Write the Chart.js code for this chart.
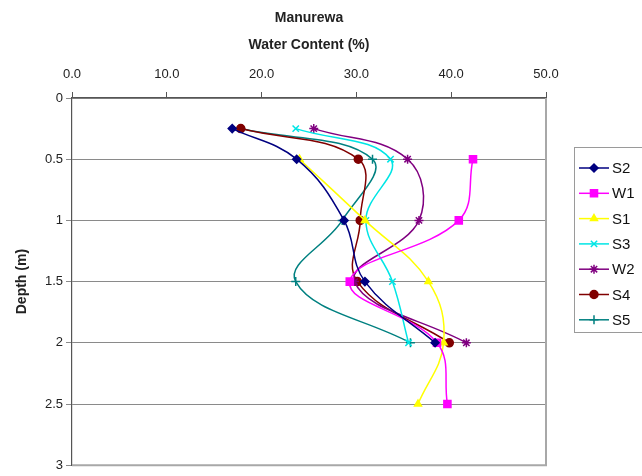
<!DOCTYPE html>
<html>
<head>
<meta charset="utf-8">
<script src="https://cdn.jsdelivr.net/npm/chart.js@4.4.1/dist/chart.umd.min.js"></script>
<style>
  html, body { margin: 0; padding: 0; background: #ffffff; }
  #wrap { width: 642px; height: 476px; position: relative; }
</style>
</head>
<body>
<div id="wrap"><canvas id="c" width="642" height="476"></canvas></div>
<script>
// Sampling depths (m) shared by all profiles
const depths = [0.25, 0.5, 1.0, 1.5, 2.0, 2.5];

// Water content (%) at each depth; null = not sampled
const S2 = [16.9, 23.7, 28.7, 30.9, 38.3, null];
const W1 = [null, 42.3, 40.8, 29.3, 38.5, 39.6];
const S1 = [null, 24.0, 30.9, 37.6, 39.2, 36.5];
const S3 = [23.6, 33.6, 31.0, 33.8, 35.5, null];
const W2 = [25.5, 35.4, 36.6, 29.8, 41.6, null];
const S4 = [17.8, 30.2, 30.4, 30.1, 39.8, null];
const S5 = [17.8, 31.7, 28.5, 23.6, 35.7, null];

const seriesNames = ['S2', 'W1', 'S1', 'S3', 'W2', 'S4', 'S5'];
const seriesValues = [S2, W1, S1, S3, W2, S4, S5];

// Axis ticks
const depthTicks = [0, 0.5, 1, 1.5, 2, 2.5, 3];
const contentTicks = [0, 10, 20, 30, 40, 50];

const styles = {
  S2: { color: '#000080', pointStyle: 'rectRot', radius: 4 },
  W1: { color: '#ff00ff', pointStyle: 'rect', radius: 5 },
  S1: { color: '#ffff00', pointStyle: 'triangle', radius: 4 },
  S3: { color: '#00e5e5', pointStyle: 'crossRot', radius: 4.5 },
  W2: { color: '#800080', pointStyle: 'star', radius: 4.5 },
  S4: { color: '#800000', pointStyle: 'circle', radius: 4 },
  S5: { color: '#008080', pointStyle: 'cross', radius: 4.5 }
};

const datasets = seriesNames.map((name, i) => {
  const st = styles[name];
  const pts = [];
  seriesValues[i].forEach((v, k) => { if (v !== null) pts.push({ x: v, y: depths[k] }); });
  return {
    label: name,
    data: pts,
    showLine: true,
    borderColor: st.color,
    backgroundColor: st.color,
    borderWidth: 1.5,
    tension: 0.4,
    pointStyle: st.pointStyle,
    pointRadius: st.radius,
    pointBorderWidth: 1.5,
    pointBackgroundColor: st.color,
    pointBorderColor: st.color
  };
});

// Right and bottom edges of the plot frame
const framePlugin = {
  id: 'plotFrame',
  beforeDatasetsDraw(chart) {
    const { ctx, chartArea: a } = chart;
    ctx.save();
    ctx.strokeStyle = '#a8a8a8';
    ctx.lineWidth = 2;
    ctx.beginPath();
    ctx.moveTo(a.right, a.top);
    ctx.lineTo(a.right, a.bottom);
    ctx.lineTo(a.left, a.bottom);
    ctx.stroke();
    ctx.restore();
  }
};

// Boxed legend with line + marker samples
const legendPlugin = {
  id: 'boxLegend',
  afterDraw(chart) {
    const { ctx } = chart;
    const left = 574, top = 147, bottom = 332, right = 660;
    ctx.save();
    ctx.strokeStyle = '#9a9a9a';
    ctx.lineWidth = 1;
    ctx.strokeRect(left + 0.5, top + 0.5, right - left, bottom - top);
    ctx.font = '15px "Liberation Sans", Arial, sans-serif';
    ctx.textBaseline = 'middle';
    ctx.textAlign = 'left';
    chart.data.datasets.forEach((ds, i) => {
      const y = 168 + i * 25.3;
      ctx.strokeStyle = ds.borderColor;
      ctx.fillStyle = ds.borderColor;
      ctx.lineWidth = 1.5;
      ctx.beginPath();
      ctx.moveTo(579, y);
      ctx.lineTo(609, y);
      ctx.stroke();
      Chart.helpers.drawPoint(ctx, {
        pointStyle: ds.pointStyle, radius: ds.pointRadius, rotation: 0, borderWidth: 1.5
      }, 594, y);
      ctx.fillStyle = '#111';
      ctx.fillText(ds.label, 612, y + 1);
    });
    ctx.restore();
  }
};

new Chart(document.getElementById('c'), {
  type: 'scatter',
  data: { datasets },
  options: {
    responsive: false,
    animation: false,
    layout: { padding: { left: 0, top: 0, right: 96, bottom: 6 } },
    plugins: { legend: { display: false }, tooltip: { enabled: false } },
    scales: {
      x: {
        type: 'linear',
        position: 'top',
        min: 0, max: 50,
        afterBuildTicks(scale) { scale.ticks = contentTicks.map(v => ({ value: v })); },
        afterFit(scale) { scale.height = 98; },
        grid: { drawOnChartArea: false, drawTicks: true, tickLength: 6, color: '#555', lineWidth: 1 },
        border: { display: true, color: '#555', width: 1.2 },
        ticks: {
          padding: 10,
          color: '#222',
          font: { family: '"Liberation Sans", Arial, sans-serif', size: 13 },
          callback: v => Number(v).toFixed(1)
        },
        title: {
          display: true,
          text: ['Manurewa', 'Water Content (%)'],
          color: '#222',
          font: { family: '"Liberation Sans", Arial, sans-serif', size: 14, weight: 'bold', lineHeight: 1.93 },
          padding: { top: 4.5, bottom: 0 }
        }
      },
      y: {
        type: 'linear',
        reverse: true,
        min: 0, max: 3,
        afterBuildTicks(scale) { scale.ticks = depthTicks.map(v => ({ value: v })); },
        afterFit(scale) { scale.width = 72; },
        grid: { drawOnChartArea: true, drawTicks: true, tickLength: 6, color: '#8a8a8a', lineWidth: 1 },
        border: { display: true, color: '#555', width: 1.2 },
        ticks: {
          padding: 3,
          color: '#222',
          font: { family: '"Liberation Sans", Arial, sans-serif', size: 13 },
          callback: v => String(v)
        },
        title: {
          display: true,
          text: 'Depth (m)',
          color: '#222',
          font: { family: '"Liberation Sans", Arial, sans-serif', size: 14, weight: 'bold' },
          padding: { top: 13.6, bottom: 0 }
        }
      }
    }
  },
  plugins: [framePlugin, legendPlugin]
});
</script>
</body>
</html>
